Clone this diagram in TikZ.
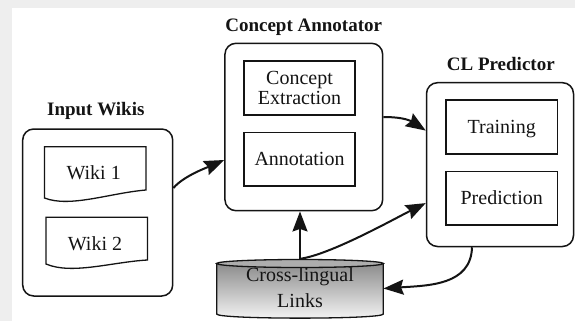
\documentclass[tikz,border=0pt]{standalone}
\usepackage{fontspec}
\setmainfont{Liberation Serif}
\usetikzlibrary{arrows.meta,calc}
\definecolor{pagegray}{HTML}{EEEEEE}
\definecolor{ink}{HTML}{141414}

\begin{document}
\begin{tikzpicture}[x=1pt,y=-1pt,
  txt/.style={font=\fontsize{20}{20}\selectfont, text=ink},
  title/.style={font=\fontsize{19}{19}\selectfont\bfseries, text=ink, anchor=base, inner sep=0pt},
  group/.style={draw=ink, line width=1.5pt, rounded corners=11pt, inner sep=0pt},
  stage/.style={draw=ink, line width=1.3pt, inner sep=0pt, txt},
  oneline/.style={text height=13pt, text depth=0pt},
  doc/.style={draw=ink, line width=1.3pt},
  flow/.style={line width=2pt, draw=ink, -{Stealth[length=20pt,width=15pt,inset=2.5pt]}}]

% page background
\useasboundingbox (0,0) rectangle (575,321);
\fill[pagegray] (0,0) rectangle (575,321);
\fill[white] (12,8) rectangle (575,321);

% group titles
\node[title] (tinw) at (95.8,115) {Input Wikis};
\node[title] (tca)  at (303.7,31.5) {Concept Annotator};
\node[title] (tclp) at (500.8,70.5) {CL Predictor};

% group frames
\node[group, minimum width=150pt, minimum height=167pt] (inw) at (97.7,212.5) {};
\node[group, minimum width=157.7pt, minimum height=167.4pt] (ca) at (303.8,127) {};
\node[group, minimum width=147pt, minimum height=163.8pt] (clp) at (500,164.6) {};

% input documents
\draw[doc] (44.5,146.7) -- (146,146.7) -- (146,190)
  .. controls (110,193) and (70,208) .. (44.5,198) -- cycle;
\draw[doc] (46,217.3) -- (147.5,217.3) -- (147.5,260)
  .. controls (112,262) and (72,275) .. (46,264) -- cycle;
\node[txt, anchor=base, inner sep=0pt] (w1) at (93.7,179.3) {Wiki 1};
\node[txt, anchor=base, inner sep=0pt] (w2) at (95,250) {Wiki 2};

% annotator stages
\node[stage, align=center, minimum width=111pt, minimum height=54pt,
      font=\fontsize{20}{19.5}\selectfont] (ce) at (299.5,88) {Concept\\Extraction};
\node[stage, oneline, minimum width=111pt, minimum height=53.7pt] (an) at (299.5,159.2) {Annotation};

% predictor stages
\node[stage, oneline, minimum width=111.3pt, minimum height=54pt] (tr) at (501.7,127) {Training};
\node[stage, oneline, minimum width=111.3pt, minimum height=53.3pt] (pr) at (501.7,198.4) {Prediction};

% cross-lingual link store (cylinder)
\node[minimum width=166.6pt, minimum height=59pt, inner sep=0pt] (cll) at (300,288.5) {};
\path[draw=ink, line width=1.3pt, top color=black!45, bottom color=black!4]
  (216.7,263.5) -- (216.7,314)
  .. controls (216.7,319.5) and (383.3,319.5) .. (383.3,314)
  -- (383.3,263.5) -- cycle;
\draw[ink, line width=1.3pt, fill=black!32] (300,263.5) ellipse [x radius=83.3pt, y radius=4pt];
\node[txt, align=center, inner sep=0pt, font=\fontsize{20}{26}\selectfont] (cltext) at (300,288) {Cross-lingual\\Links};

% data flow
\draw[flow] ($(inw.east)+(0,-24.5)$) .. controls +(10,-12) and +(-16,7) .. ($(ca.west)+(0,33)$);
\draw[flow] ($(ca.east)+(0,-10)$) .. controls +(22,0) and +(-14,-9) .. ($(clp.west)+(0,-34)$);
\draw[flow] (cll.north) -- (cll.north |- ca.south);
\draw[flow] (cll.north) .. controls +(30,-4) and +(-32,16) .. ($(clp.west)+(0,38.5)$);
\draw[flow] ($(clp.south)+(-28,0)$) .. controls +(-1,38) and +(45,-3) .. (cll.east);
\end{tikzpicture}
\end{document}
